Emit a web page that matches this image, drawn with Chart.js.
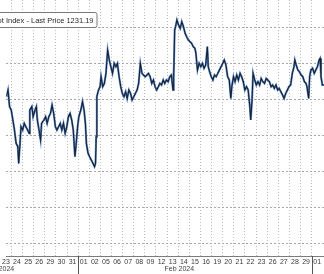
<!DOCTYPE html>
<html>
<head>
<meta charset="utf-8">
<script src="https://cdn.jsdelivr.net/npm/chart.js@4.4.1/dist/chart.umd.min.js"></script>
<style>
  html, body { margin: 0; padding: 0; background: #fff; }
  #wrap { width: 324px; height: 274px; position: relative; }
</style>
</head>
<body>
<div id="wrap"><canvas id="chart"></canvas></div>
<script>
// trading days shown on the axis (23 Jan 2024 .. 01 Mar 2024)
var dayLabels = ['23', '24', '25', '26', '29', '30', '31', '01', '02', '05', '06', '07', '08', '09',
    '12', '13', '14', '15', '16', '19', '20', '21', '22', '23', '26', '27', '28', '29', '01'];
var monthLabels = ['Jan 2024', 'Feb 2024'];
var monthLabelAt = [-0.05, 16.1];    // in trading-day units
var monthStarts = [7, 28];           // Feb 01, Mar 01
var yGrid = [1210, 1215, 1220, 1225, 1230, 1235, 1240];
var legendText = 'Bloomberg Dollar Spot Index - Last Price 1231.19';

// position in trading days (day i spans i..i+1) and price
var xDays = [0.54, 0.69, 0.83, 0.98, 1.13, 1.27, 1.42, 1.57, 1.65, 1.77, 1.86, 2.01, 2.15, 2.30, 2.45, 2.60,
    2.65, 2.83, 2.95, 3.12, 3.24, 3.33, 3.48, 3.62, 3.71, 3.92, 4.07, 4.21, 4.36, 4.51, 4.65, 4.80, 4.95,
    5.09, 5.24, 5.39, 5.53, 5.68, 5.83, 5.98, 6.12, 6.27, 6.42, 6.56, 6.71, 6.80, 6.95, 7.06, 7.24, 7.39,
    7.53, 7.65, 7.74, 7.89, 8.03, 8.18, 8.33, 8.47, 8.56, 8.62, 8.68, 8.83, 8.97, 9.06, 9.21, 9.36, 9.50,
    9.65, 9.80, 9.94, 10.09, 10.24, 10.39, 10.53, 10.68, 10.83, 10.97, 11.12, 11.27, 11.41, 11.56, 11.71,
    11.85, 12.00, 12.15, 12.30, 12.44, 12.59, 12.74, 12.88, 13.03, 13.18, 13.32, 13.47, 13.62, 13.77, 13.91,
    14.06, 14.21, 14.35, 14.50, 14.65, 14.79, 14.94, 15.09, 15.24, 15.38, 15.53, 15.59, 15.68, 15.76, 15.88,
    16.03, 16.18, 16.32, 16.47, 16.62, 16.76, 16.91, 17.06, 17.20, 17.35, 17.50, 17.59, 17.73, 17.88, 18.03,
    18.17, 18.32, 18.47, 18.62, 18.70, 18.82, 18.97, 19.12, 19.26, 19.41, 19.56, 19.70, 19.85, 20.00, 20.14,
    20.29, 20.44, 20.59, 20.73, 20.82, 20.97, 21.11, 21.26, 21.41, 21.56, 21.70, 21.85, 21.99, 22.14, 22.29,
    22.44, 22.52, 22.64, 22.73, 22.88, 23.02, 23.17, 23.32, 23.46, 23.61, 23.76, 23.91, 24.05, 24.20, 24.35,
    24.49, 24.64, 24.79, 24.94, 25.08, 25.23, 25.38, 25.52, 25.67, 25.82, 25.96, 26.11, 26.26, 26.41, 26.49,
    26.61, 26.76, 26.90, 27.05, 27.20, 27.35, 27.49, 27.58, 27.73, 27.82, 27.93, 28.08, 28.23, 28.37, 28.52,
    28.67, 28.76, 28.84, 28.96, 29.11];
var lastPrice = [1230.37, 1231.30, 1228.98, 1228.52, 1227.13, 1225.74, 1223.89, 1223.43, 1221.11, 1223.89,
    1226.20, 1225.74, 1226.67, 1226.20, 1225.74, 1225.28, 1228.52, 1228.98, 1227.59, 1228.52, 1228.98,
    1227.13, 1225.74, 1224.35, 1226.67, 1227.13, 1227.59, 1226.67, 1227.59, 1228.05, 1229.21, 1228.05,
    1226.20, 1225.74, 1226.20, 1226.67, 1225.74, 1226.67, 1225.28, 1226.20, 1227.59, 1228.05, 1227.13,
    1225.74, 1222.04, 1223.43, 1226.20, 1227.59, 1228.52, 1229.68, 1228.52, 1226.67, 1223.89, 1222.50,
    1222.04, 1221.58, 1221.11, 1220.65, 1221.11, 1224.81, 1230.37, 1231.30, 1231.76, 1233.15, 1231.76,
    1232.22, 1233.61, 1236.85, 1235.46, 1234.54, 1233.61, 1235.00, 1234.54, 1235.00, 1233.15, 1231.76,
    1230.83, 1230.37, 1231.06, 1230.13, 1231.30, 1230.83, 1229.91, 1230.37, 1230.83, 1231.30, 1232.22,
    1235.00, 1233.61, 1233.38, 1233.15, 1233.38, 1233.61, 1233.15, 1232.22, 1232.69, 1231.76, 1231.30,
    1231.76, 1232.22, 1231.99, 1232.69, 1232.22, 1232.69, 1232.45, 1233.15, 1233.38, 1231.30, 1233.15,
    1239.63, 1240.09, 1241.02, 1240.32, 1239.86, 1240.79, 1240.09, 1239.17, 1238.70, 1238.24, 1238.01,
    1237.78, 1237.32, 1237.08, 1236.39, 1234.07, 1235.00, 1234.54, 1235.00, 1234.31, 1234.77, 1237.32,
    1234.54, 1233.84, 1233.15, 1232.69, 1233.38, 1233.15, 1233.61, 1234.07, 1234.54, 1235.00, 1235.46,
    1234.77, 1233.15, 1232.69, 1230.13, 1231.76, 1233.15, 1232.45, 1233.38, 1232.69, 1233.61, 1233.15,
    1232.45, 1231.30, 1231.76, 1231.30, 1228.98, 1227.13, 1229.91, 1233.61, 1232.69, 1231.99, 1232.45,
    1231.99, 1232.90, 1232.45, 1232.22, 1232.90, 1232.69, 1232.45, 1231.76, 1231.99, 1231.53, 1231.99,
    1231.30, 1231.53, 1231.06, 1230.60, 1230.13, 1230.83, 1231.30, 1231.76, 1231.99, 1233.61, 1234.54,
    1235.46, 1234.77, 1234.07, 1233.84, 1233.38, 1233.15, 1232.45, 1232.22, 1231.76, 1230.13, 1233.15,
    1234.07, 1234.31, 1233.61, 1234.07, 1234.54, 1235.46, 1235.69, 1233.15, 1231.99, 1231.99];

var points = xDays.map(function (x, i) { return { x: x, y: lastPrice[i] }; });
var tickFont = { family: 'Liberation Sans', size: 7 };

// month separators, month names and the legend box
var decor = {
    id: 'decor',
    afterDraw: function (chart) {
        var ctx = chart.ctx, xs = chart.scales.x, area = chart.chartArea;
        ctx.save();
        ctx.strokeStyle = '#555';
        ctx.lineWidth = 1;
        monthStarts.forEach(function (m) {
            var px = Math.round(xs.getPixelForValue(m)) + 0.5;
            ctx.beginPath();
            ctx.moveTo(px, area.bottom);
            ctx.lineTo(px, chart.height);
            ctx.stroke();
        });
        ctx.fillStyle = '#444';
        ctx.font = '7px "Liberation Sans"';
        ctx.textAlign = 'center';
        ctx.textBaseline = 'middle';
        monthLabels.forEach(function (t, i) {
            ctx.fillText(t, xs.getPixelForValue(monthLabelAt[i]), 269.5);
        });

        // legend, cut off at the left edge like the source
        ctx.beginPath();
        ctx.roundRect(-6.5, 12.5, 103.5, 15, 2);
        ctx.fillStyle = '#fff';
        ctx.fill();
        ctx.strokeStyle = '#7a7a7a';
        ctx.stroke();
        ctx.fillStyle = '#2a2a2a';
        ctx.font = '7.5px "Liberation Sans"';
        ctx.textAlign = 'right';
        ctx.fillText(legendText, 93.5, 20.5);
        ctx.restore();
    }
};

new Chart(document.getElementById('chart'), {
    type: 'line',
    data: {
        datasets: [
            // dataset 0 is drawn last, so the dark core sits on top of the blue edge
            { data: points, borderColor: '#1a2130', borderWidth: 1.1, pointRadius: 0, tension: 0 },
            { data: points, borderColor: '#5b8ccd', borderWidth: 2.1, pointRadius: 0, tension: 0 }
        ]
    },
    options: {
        responsive: true,
        maintainAspectRatio: false,
        animation: false,
        layout: { padding: 0 },
        plugins: { legend: { display: false }, tooltip: { enabled: false } },
        scales: {
            x: {
                type: 'linear',
                min: 0.54,
                max: 29.11,
                afterBuildTicks: function (scale) {
                    var t = [];
                    for (var i = 0; i < dayLabels.length; i++) {
                        if (i > 0) t.push({ value: i });
                        t.push({ value: i + 0.5 });
                    }
                    scale.ticks = t;
                },
                afterFit: function (scale) { scale.height = 18; },
                ticks: {
                    autoSkip: false,
                    maxRotation: 0,
                    padding: 2,
                    font: tickFont,
                    color: '#3a3a3a',
                    callback: function (v) {
                        return Number.isInteger(v) ? '' : dayLabels[Math.floor(v)];
                    }
                },
                grid: {
                    drawTicks: false,
                    color: function (c) {
                        return c.tick && Number.isInteger(c.tick.value) ? '#bababa' : 'rgba(0,0,0,0)';
                    }
                },
                border: { display: true, color: '#7c7c7c', width: 1, dash: [1, 2] }
            },
            y: {
                min: 1208.24,
                max: 1243.8,
                afterBuildTicks: function (scale) {
                    scale.ticks = yGrid.map(function (v) { return { value: v }; });
                },
                afterFit: function (scale) { scale.width = 0; },
                ticks: { display: false },
                grid: { drawTicks: false, color: '#a8a8a8' },
                border: { display: false, dash: [2, 2] }
            }
        }
    },
    plugins: [decor]
});
</script>
</body>
</html>
